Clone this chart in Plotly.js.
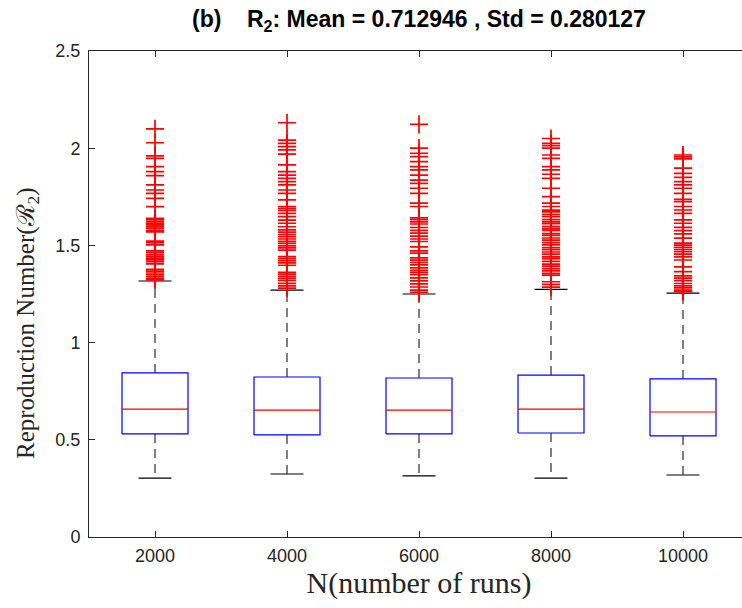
<!DOCTYPE html>
<html>
<head>
<meta charset="utf-8">
<script src="https://cdn.plot.ly/plotly-3.0.1.min.js"></script>
<style>
html, body { margin: 0; padding: 0; overflow: hidden; background: #fff; }
#chart { width: 750px; height: 608px; }
</style>
</head>
<body>
<div id="chart"></div>
<script>
// ---- data ----
const categories = ['2000', '4000', '6000', '8000', '10000'];
const q1 = [0.530, 0.525, 0.530, 0.535, 0.520];
const medians = [0.658, 0.653, 0.653, 0.658, 0.643];
const q3 = [0.844, 0.823, 0.818, 0.833, 0.813];
const lowerWhisker = [0.303, 0.324, 0.314, 0.303, 0.319];
const upperWhisker = [1.317, 1.270, 1.250, 1.274, 1.255];

const outliers2000 = [2.099, 2.028, 1.961, 1.948, 1.905, 1.879, 1.859, 1.811, 1.785, 1.768, 1.742, 1.699,
  1.639, 1.632, 1.624, 1.615, 1.606, 1.598, 1.589, 1.578, 1.570, 1.522, 1.514, 1.503, 1.472, 1.463,
  1.452, 1.444, 1.435, 1.426, 1.417, 1.405, 1.377, 1.368, 1.358, 1.349, 1.340, 1.331, 1.323];
const outliers4000 = [2.131, 2.042, 2.025, 2.008, 1.991, 1.970, 1.914, 1.879, 1.862, 1.845, 1.828, 1.811,
  1.785, 1.768, 1.734, 1.700, 1.690, 1.680, 1.665, 1.648, 1.630, 1.614, 1.596, 1.580, 1.568, 1.556,
  1.545, 1.533, 1.521, 1.510, 1.498, 1.487, 1.476, 1.442, 1.432, 1.421, 1.410, 1.398, 1.362, 1.352,
  1.341, 1.331, 1.320, 1.305, 1.292, 1.280];
const outliers6000 = [2.123, 2.000, 1.974, 1.957, 1.931, 1.905, 1.888, 1.862, 1.836, 1.819, 1.794, 1.768,
  1.717, 1.700, 1.642, 1.632, 1.621, 1.610, 1.592, 1.577, 1.563, 1.548, 1.533, 1.520, 1.492, 1.472,
  1.460, 1.436, 1.424, 1.412, 1.400, 1.384, 1.372, 1.361, 1.350, 1.333, 1.318, 1.302, 1.286, 1.270, 1.258];
const outliers8000 = [2.050, 2.025, 2.013, 2.000, 1.965, 1.948, 1.905, 1.888, 1.866, 1.845, 1.794, 1.751,
  1.717, 1.700, 1.681, 1.672, 1.659, 1.648, 1.633, 1.621, 1.612, 1.597, 1.585, 1.577, 1.561, 1.552,
  1.538, 1.527, 1.514, 1.503, 1.489, 1.478, 1.466, 1.455, 1.441, 1.432, 1.418, 1.404, 1.393, 1.381,
  1.369, 1.356, 1.347, 1.313, 1.300, 1.285];
const outliers10000 = [1.965, 1.955, 1.945, 1.897, 1.871, 1.850, 1.828, 1.811, 1.794, 1.768, 1.737, 1.725,
  1.700, 1.682, 1.665, 1.631, 1.614, 1.593, 1.576, 1.559, 1.537, 1.512, 1.501, 1.490, 1.479, 1.468,
  1.455, 1.441, 1.425, 1.390, 1.365, 1.343, 1.332, 1.319, 1.304, 1.292, 1.281, 1.270, 1.262];
const outliers = [outliers2000, outliers4000, outliers6000, outliers8000, outliers10000];

const yTickVals = [0, 0.5, 1, 1.5, 2, 2.5];
const yTickText = ['0', '0.5', '1', '1.5', '2', '2.5'];

const titleText = '(b)&nbsp;&nbsp;&nbsp;&nbsp;R<sub>2</sub>: Mean = 0.712946 , Std = 0.280127';
const yTitle = 'Reproduction Number(ℛ<sub>2</sub>)';
const xTitle = 'N(number of runs)';

// ---- build traces ----
const halfBox = 0.25, halfCap = 0.125;
const pos = categories.map((c, i) => i + 1);

const boxX = [], boxY = [], medX = [], medY = [], whX = [], whY = [], capX = [], capY = [], outX = [], outY = [];
pos.forEach((p, i) => {
  boxX.push(p - halfBox, p + halfBox, p + halfBox, p - halfBox, p - halfBox, null);
  boxY.push(q1[i], q1[i], q3[i], q3[i], q1[i], null);
  medX.push(p - halfBox, p + halfBox, null);
  medY.push(medians[i], medians[i], null);
  whX.push(p, p, null, p, p, null);
  whY.push(q3[i], upperWhisker[i], null, q1[i], lowerWhisker[i], null);
  capX.push(p - halfCap, p + halfCap, null, p - halfCap, p + halfCap, null);
  capY.push(upperWhisker[i], upperWhisker[i], null, lowerWhisker[i], lowerWhisker[i], null);
  outliers[i].forEach(v => { outX.push(p); outY.push(v); });
});

const traces = [
  {x: whX, y: whY, mode: 'lines', line: {color: '#000', width: 1, dash: '9px,6px'}, hoverinfo: 'skip'},
  {x: capX, y: capY, mode: 'lines', line: {color: '#000', width: 1.2}, hoverinfo: 'skip'},
  {x: outX, y: outY, mode: 'markers', marker: {symbol: 'cross-thin', size: 13, color: '#ff0000', line: {color: '#ff0000', width: 1.7}}},
  {x: boxX, y: boxY, mode: 'lines', line: {color: '#0000ff', width: 1.2}, hoverinfo: 'skip'},
  {x: medX, y: medY, mode: 'lines', line: {color: '#ff0000', width: 1.2}, hoverinfo: 'skip'}
];

const tickFont = {family: 'Liberation Sans, Arial, sans-serif', size: 18, color: '#262626'};
const axisCommon = {
  showline: true, linecolor: '#262626', linewidth: 1, mirror: 'ticks',
  ticks: 'inside', ticklen: 6, tickcolor: '#262626', tickwidth: 1,
  showgrid: false, zeroline: false
};

const layout = {
  width: 750, height: 608,
  margin: {l: 89, r: 1, t: 51, b: 71},
  paper_bgcolor: '#fff', plot_bgcolor: '#fff',
  showlegend: false,
  title: {text: titleText, x: 0.5, xref: 'paper', xanchor: 'center', y: 1 - 19 / 608, yref: 'container', yanchor: 'middle',
    font: {family: 'Liberation Sans, Arial, sans-serif', size: 23, color: '#000', weight: 'bold'}},
  xaxis: Object.assign({}, axisCommon, {
    range: [0.5, 5.5], tickvals: pos, ticktext: categories, ticklabelstandoff: 2,
    tickfont: tickFont,
    title: {text: xTitle, standoff: 0, font: {family: 'Liberation Serif, Times New Roman, serif', size: 30, color: '#262626'}}
  }),
  yaxis: Object.assign({}, axisCommon, {
    range: [0, 2.5], tickvals: yTickVals, ticktext: yTickText, ticklabelstandoff: 4,
    tickfont: tickFont
  }),
  annotations: [{
    text: yTitle, textangle: -90, xref: 'paper', yref: 'paper', x: 0, y: (537 - 323) / 486,
    xanchor: 'center', yanchor: 'middle', xshift: -62, showarrow: false,
    font: {family: 'Liberation Serif, Times New Roman, serif', size: 25, color: '#262626'}
  }]
};

Plotly.newPlot('chart', traces, layout, {displayModeBar: false, staticPlot: true});
</script>
</body>
</html>
